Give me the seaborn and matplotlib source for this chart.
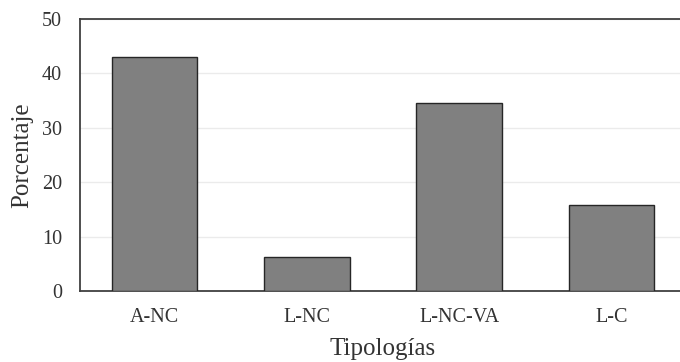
import matplotlib
matplotlib.use("Agg")
import matplotlib.pyplot as plt
from matplotlib.ticker import MultipleLocator
import seaborn as sns
import pandas as pd

# data
tipologias = ['A-NC', 'L-NC', 'L-NC-VA', 'L-C']
porcentaje = [43.1, 6.3, 34.6, 15.8]

df = pd.DataFrame({'Tipologías': tipologias, 'Porcentaje': porcentaje})

sns.set_style("white")
plt.rcParams['font.family'] = ['Liberation Serif', 'DejaVu Serif']

fig = plt.figure(figsize=(6.8, 3.62), dpi=100)
ax = fig.add_axes([80/680, 1-291/362, 606/680, 272/362])

sns.barplot(data=df, x='Tipologías', y='Porcentaje', color='#808080',
            saturation=1, width=0.56, edgecolor='#262626', linewidth=1, ax=ax,
            zorder=3)

ax.set_ylim(0, 50)
ax.set_xlim(-0.49, 3.49)
ax.yaxis.set_major_locator(MultipleLocator(10))
ax.yaxis.set_minor_locator(MultipleLocator(5))
ax.grid(axis='y', which='major', color='#ebebeb', linewidth=1, zorder=0)
ax.set_axisbelow(True)

for s in ['left', 'top', 'bottom']:
    ax.spines[s].set_color('#404040')
    ax.spines[s].set_linewidth(1.3)
ax.spines['right'].set_visible(False)

ax.tick_params(axis='y', which='major', length=0, pad=13, labelsize=14.5, labelcolor='#333333')
ax.tick_params(axis='y', which='minor', direction='in', length=3, color='#404040', width=1)
ax.tick_params(axis='x', length=0, pad=12, labelsize=14.5, labelcolor='#333333')

ax.set_xlabel('Tipologías', fontsize=18, color='#333333', labelpad=8)
ax.set_ylabel('Porcentaje', fontsize=18, color='#333333', labelpad=6)

fig.savefig('out.png', dpi=100)
